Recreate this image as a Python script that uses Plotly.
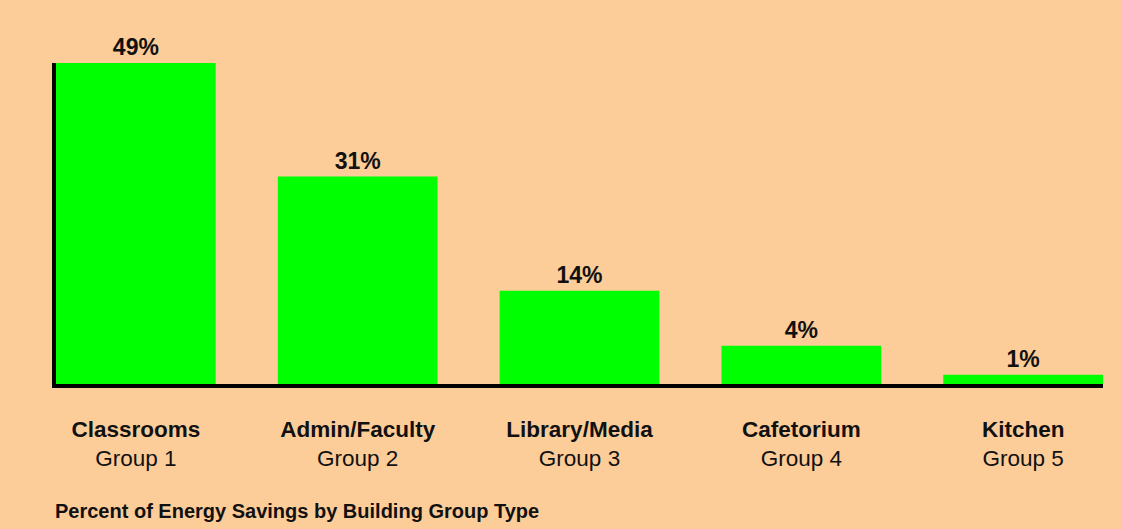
import plotly.graph_objects as go

categories = ["Classrooms", "Admin/Faculty", "Library/Media", "Cafetorium", "Kitchen"]
groups = ["Group 1", "Group 2", "Group 3", "Group 4", "Group 5"]
bar_values = [48.6, 31.4, 14.1, 5.8, 1.4]   # bar heights as drawn (percent)
bar_labels = ["49%", "31%", "14%", "4%", "1%"]
title_text = "Percent of Energy Savings by Building Group Type"

FONT = "Arial, Liberation Sans, sans-serif"
BG = "#FCCC99"

x = list(range(len(categories)))
ticktext = [f"<b>{c}</b><br>{g}" for c, g in zip(categories, groups)]

fig = go.Figure(go.Bar(
    x=x, y=bar_values, text=bar_labels,
    textposition="outside", cliponaxis=False, constraintext="none",
    textfont=dict(family=FONT, size=23, color="#111111"),
    texttemplate="<b>%{text}</b>",
    marker=dict(color="#00FF00", line=dict(width=0)),
    width=0.72, hoverinfo="skip",
))

fig.update_layout(
    width=1121, height=529,
    margin=dict(l=56, r=18, t=63, b=145),
    paper_bgcolor=BG, plot_bgcolor=BG,
    showlegend=False,
    font=dict(family=FONT, color="#111111"),
    title=dict(text=f"<b>{title_text}</b>", x=55 / 1121, xanchor="left",
               xref="container", yref="container", y=1 - 511 / 529, yanchor="middle",
               font=dict(family=FONT, size=20, color="#111111")),
)
fig.update_xaxes(
    range=[-0.36, len(categories) - 1 + 0.36],
    tickvals=x, ticktext=ticktext,
    tickfont=dict(family=FONT, size=22.5, color="#111111"),
    ticks="outside", ticklen=22, tickcolor="rgba(0,0,0,0)",
    showline=True, linecolor="#000000", linewidth=4,
    showgrid=False, zeroline=False,
)
fig.update_yaxes(
    range=[0, max(bar_values)],
    showticklabels=False, ticks="",
    showline=True, linecolor="#000000", linewidth=4,
    showgrid=False, zeroline=False,
)

fig.write_html("out.html")
